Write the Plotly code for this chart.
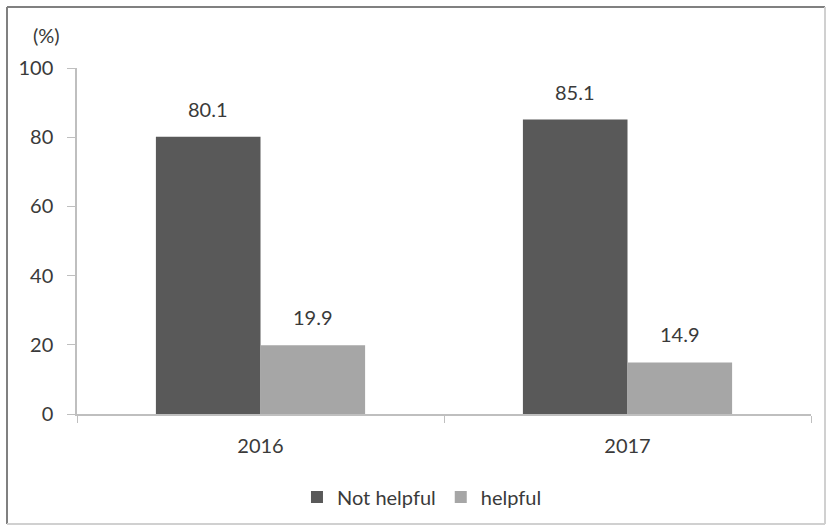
import plotly.graph_objects as go

years = ["2016", "2017"]
not_helpful = [80.1, 85.1]
helpful = [19.9, 14.9]
series_names = ["Not helpful", "helpful"]
colors = ["#595959", "#a6a6a6"]
y_ticks = [0, 20, 40, 60, 80, 100]

W, H = 827, 530
ML, MR, MT, MB = 77, 16, 68, 116
FONT = "Lato, 'Liberation Sans', sans-serif"
TXT = "#3a3a3a"

fig = go.Figure()
for name, vals, col in zip(series_names, [not_helpful, helpful], colors):
    fig.add_trace(go.Bar(x=years, y=vals, name=name, marker=dict(color=col, line=dict(width=0))))

# value labels above bars
plot_w = W - ML - MR
plot_h = H - MT - MB
cat_w = plot_w / len(years)
bargap = 0.43
bar_w = cat_w * (1 - bargap) / 2
for i, vals in enumerate([not_helpful, helpful]):
    shift = (i - 0.5) * bar_w
    for j, v in enumerate(vals):
        fig.add_annotation(x=j, y=v, text=f"{v:.1f}", showarrow=False,
                           xshift=shift, yshift=14, yanchor="bottom",
                           font=dict(family=FONT, size=20, color=TXT))

fig.add_annotation(xref="paper", yref="paper", x=(46 - ML) / plot_w, y=(H - MB - 35) / plot_h,
                   text="(%)", showarrow=False, xanchor="center", yanchor="middle",
                   font=dict(family=FONT, size=20, color=TXT))

# frame edges in paper coordinates
fx0 = -(ML - 7) / plot_w
fx1 = 1 + (MR - 2) / plot_w
fy0 = -(MB - 6) / plot_h
fy1 = 1 + (MT - 7) / plot_h
frame = [
    dict(x0=fx0, x1=fx1, y0=fy1, y1=fy1, color="#808080"),
    dict(x0=fx0, x1=fx0, y0=fy0, y1=fy1, color="#808080"),
    dict(x0=fx1, x1=fx1, y0=fy0, y1=fy1, color="#d0d0d0"),
    dict(x0=fx0, x1=fx1, y0=fy0, y1=fy0, color="#d0d0d0"),
]
shapes = [dict(type="line", xref="paper", yref="paper", x0=f["x0"], x1=f["x1"],
               y0=f["y0"], y1=f["y1"], line=dict(color=f["color"], width=2), layer="below")
          for f in frame]

fig.update_layout(
    width=W, height=H,
    margin=dict(l=ML, r=MR, t=MT, b=MB),
    paper_bgcolor="white", plot_bgcolor="white",
    barmode="group", bargap=bargap, bargroupgap=0,
    font=dict(family=FONT, size=20, color=TXT),
    showlegend=True,
    legend=dict(orientation="h", x=0.47, xanchor="center", y=-0.24, yanchor="middle",
                font=dict(family=FONT, size=20, color=TXT), itemwidth=30,
                traceorder="normal"),
    xaxis=dict(type="category", range=[-0.5, len(years) - 0.5], showline=True,
               linecolor="#bfbfbf", linewidth=1.5,
               ticks="outside", tickson="boundaries", ticklen=7, tickcolor="#bfbfbf",
               ticklabelstandoff=13, showgrid=False,
               tickfont=dict(family=FONT, size=20, color=TXT)),
    yaxis=dict(range=[0, 100], tickvals=y_ticks, showline=True, linecolor="#bfbfbf",
               linewidth=1.5, ticks="outside", ticklen=8, tickcolor="#bfbfbf",
               ticklabelstandoff=10, showgrid=False, zeroline=False,
               tickfont=dict(family=FONT, size=20, color=TXT)),
    shapes=shapes,
)

fig.write_html("out.html")
